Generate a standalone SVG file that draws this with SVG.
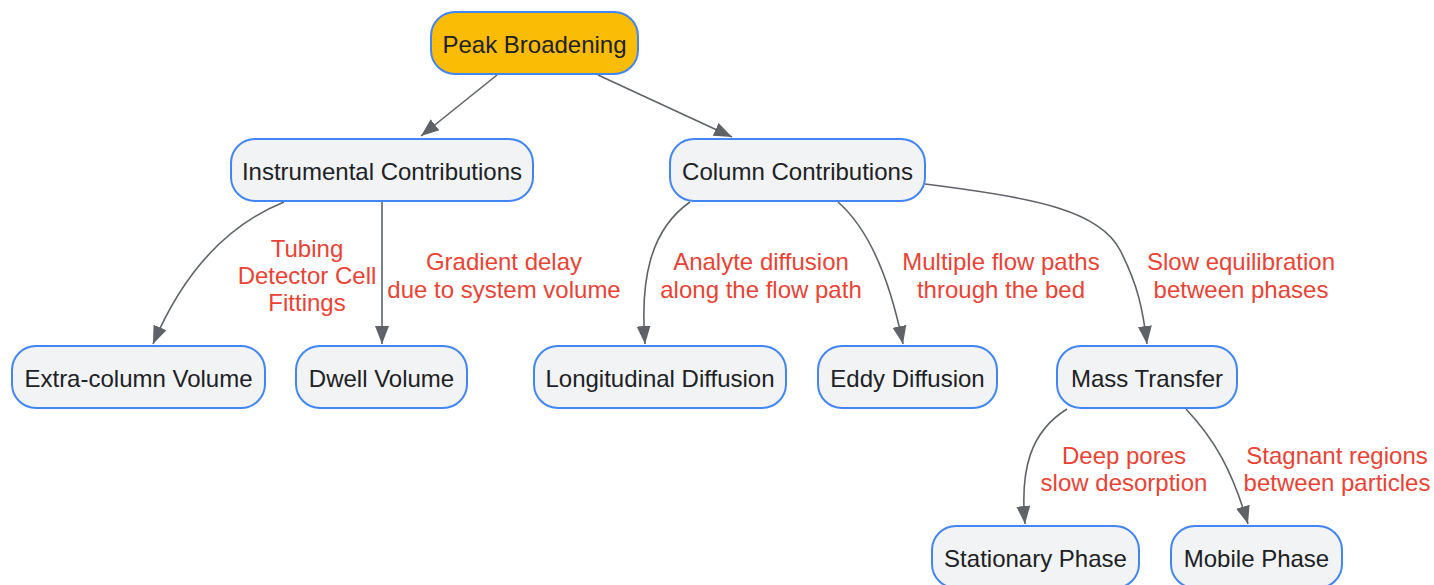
<svg xmlns="http://www.w3.org/2000/svg" width="1434" height="585" viewBox="0 0 1434 585">
<defs>
<marker id="arr" markerUnits="userSpaceOnUse" markerWidth="20" markerHeight="16" refX="18" refY="8" orient="auto">
<path d="M0,1 L18,8 L0,15 Z" fill="#5f6368"/>
</marker>
<style>
.node rect{fill:#f1f3f4;stroke:#4285f4;stroke-width:2}
.root rect{fill:#fbbc05}
.node text{font-family:"Liberation Sans",Arial,sans-serif;font-size:24px;fill:#202124;text-anchor:middle}
.edges path{fill:none;stroke:#5f6368;stroke-width:1.6;marker-end:url(#arr)}
.lbl text{font-family:"Liberation Sans",Arial,sans-serif;font-size:24px;fill:#ea4335;text-anchor:middle}
</style>
</defs>
<rect width="1434" height="585" fill="#ffffff"/>
<g class="edges">
<path d="M497,75 L421,136"/>
<path d="M598,75 L732,137"/>
<path d="M284,202 C220,228 180,280 153,344"/>
<path d="M382,202 L382,344"/>
<path d="M690,202 C650,230 640,280 645,344"/>
<path d="M838,202 C870,230 890,280 903,344"/>
<path d="M925,184 C1040,198 1100,212 1120,250 C1138,285 1143,310 1147,344"/>
<path d="M1067,409 C1030,432 1020,470 1025,524"/>
<path d="M1186,409 C1215,440 1232,470 1248,524"/>
</g>
<g class="lbl">
<text x="307" y="257">Tubing</text>
<text x="307" y="284">Detector Cell</text>
<text x="307" y="311">Fittings</text>
<text x="504" y="270">Gradient delay</text>
<text x="504" y="298">due to system volume</text>
<text x="761" y="270">Analyte diffusion</text>
<text x="761" y="298">along the flow path</text>
<text x="1001" y="270">Multiple flow paths</text>
<text x="1001" y="298">through the bed</text>
<text x="1241" y="270">Slow equilibration</text>
<text x="1241" y="298">between phases</text>
<text x="1124" y="464">Deep pores</text>
<text x="1124" y="491">slow desorption</text>
<text x="1337" y="464">Stagnant regions</text>
<text x="1337" y="491">between particles</text>
</g>
<g id="n-peak" class="node root"><rect x="431" y="12" width="207" height="62" rx="24"/><text x="534.5" y="53">Peak Broadening</text></g>
<g id="n-instr" class="node"><rect x="231" y="139" width="302" height="62" rx="24"/><text x="382" y="180">Instrumental Contributions</text></g>
<g id="n-col" class="node"><rect x="670" y="139" width="255" height="62" rx="24"/><text x="797.5" y="180">Column Contributions</text></g>
<g id="n-extra" class="node"><rect x="12" y="346" width="253" height="62" rx="24"/><text x="138.5" y="387">Extra-column Volume</text></g>
<g id="n-dwell" class="node"><rect x="296" y="346" width="171" height="62" rx="24"/><text x="381.5" y="387">Dwell Volume</text></g>
<g id="n-long" class="node"><rect x="534" y="346" width="252" height="62" rx="24"/><text x="660" y="387">Longitudinal Diffusion</text></g>
<g id="n-eddy" class="node"><rect x="818" y="346" width="179" height="62" rx="24"/><text x="907.5" y="387">Eddy Diffusion</text></g>
<g id="n-mass" class="node"><rect x="1057" y="346" width="180" height="62" rx="24"/><text x="1147" y="387">Mass Transfer</text></g>
<g id="n-stat" class="node"><rect x="932" y="526" width="207" height="62" rx="24"/><text x="1035.5" y="567">Stationary Phase</text></g>
<g id="n-mob" class="node"><rect x="1171" y="526" width="171" height="62" rx="24"/><text x="1256.5" y="567">Mobile Phase</text></g>
</svg>
